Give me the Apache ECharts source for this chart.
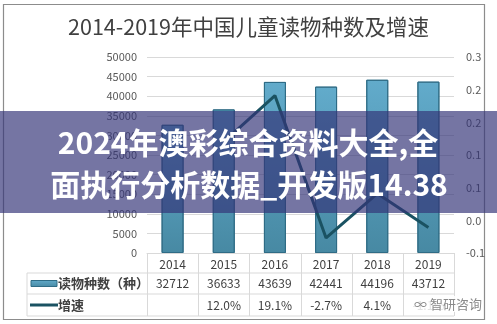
<!DOCTYPE html>
<html><head><meta charset="utf-8">
<script src="https://cdn.jsdelivr.net/npm/echarts@6/dist/echarts.min.js"></script>
<style>html,body{margin:0;padding:0;background:#fff}#c{width:497px;height:324px}</style>
</head><body><div id="c"></div>
<script>
const titleText = '2014-2019年中国儿童读物种数及增速';
const categories = ['2014','2015','2016','2017','2018','2019'];
const bookCounts = [32712, 36633, 43639, 42441, 44196, 43712];
const growthRates = [null, 0.120, 0.191, -0.027, 0.041, -0.011];
const growthLabels = ['', '12.0%', '19.1%', '-2.7%', '4.1%', '-1.1%'];
const seriesNames = ['读物种数（种）', '增速'];
const overlayLines = ['2024年澳彩综合资料大全,全', '面执行分析数据_开发版14.38'];
const watermark = '智研咨询';

const chart = echarts.init(document.getElementById('c'), null, {renderer:'canvas'});
const F = '"Noto Sans CJK SC","Noto Sans",sans-serif';
function excelFmt(v){ const r = Math.sign(v)*Math.round(Math.abs(v)*10+1e-9)/10; return r.toFixed(1); }
const G = {left:147, right:43, top:57, bottom:71};
chart.setOption({
  animation:false,
  title:{text:titleText, left:'center', top:11, textStyle:{fontFamily:F, fontSize:21.5, fontWeight:'normal', color:'#404040'}},
  grid:G,
  xAxis:{type:'category', data:categories, axisTick:{show:false},
    axisLine:{lineStyle:{color:'#d9d9d9'}},
    axisLabel:{color:'#404040', fontSize:12, fontFamily:F, margin:5}},
  yAxis:[
    {type:'value', min:0, max:50000, interval:5000, axisLine:{show:false}, axisTick:{show:false},
     splitLine:{lineStyle:{color:'#d9d9d9'}}, axisLabel:{color:'#595959', fontSize:11, fontFamily:F, margin:10, formatter:v=>String(v)}},
    {type:'value', min:-0.05, max:0.25, interval:0.05, axisLine:{show:false}, axisTick:{show:false},
     splitLine:{show:false}, axisLabel:{color:'#595959', fontSize:11, fontFamily:F, margin:12, formatter:excelFmt}}
  ],
  series:[
    {name:seriesNames[0], type:'bar', data:bookCounts, barWidth:22,
     itemStyle:{color:new echarts.graphic.LinearGradient(0,0,0,1,[{offset:0,color:'#62abcb'},{offset:1,color:'#4789a3'}]),
       borderColor:'#2f6c86', borderWidth:1}},
    {name:seriesNames[1], type:'line', yAxisIndex:1, data:growthRates, symbol:'none', connectNulls:false,
     lineStyle:{color:'#1a5262', width:3}, z:5}
  ]
});

const x0 = G.left, x1 = 497 - G.right, yAxisBottom = 324 - G.bottom;
const rowB1 = yAxisBottom + 20, rowB2 = rowB1 + 21, rowB3 = rowB2 + 22;
const tableLeft = 27;
const els = [];
const ln = (a,b,c,d)=>els.push({type:'line', shape:{x1:a,y1:b,x2:c,y2:d}, style:{stroke:'#d9d9d9', lineWidth:1}, silent:true});
ln(tableLeft, rowB1, x1, rowB1); ln(tableLeft, rowB2, x1, rowB2); ln(tableLeft, rowB3, x1, rowB3);
ln(tableLeft, rowB1, tableLeft, rowB3);
const step = (x1-x0)/categories.length;
for (let i=0;i<=categories.length;i++){ const x = Math.round(x0 + step*i)+0.5; ln(x, yAxisBottom, x, rowB3); }
categories.forEach((c,i)=>{
  const px = chart.convertToPixel({xAxisIndex:0}, c);
  els.push({type:'text', style:{text:String(bookCounts[i]), x:px, y:(rowB1+rowB2)/2, align:'center', verticalAlign:'middle', fill:'#404040', font:'12px '+F}});
  els.push({type:'text', style:{text:growthLabels[i], x:px, y:(rowB2+rowB3)/2, align:'center', verticalAlign:'middle', fill:'#404040', font:'12px '+F}});
});
els.push({type:'rect', shape:{x:31, y:(rowB1+rowB2)/2-3, width:26, height:6}, style:{fill:new echarts.graphic.LinearGradient(0,0,0,1,[{offset:0,color:'#62abcb'},{offset:1,color:'#4789a3'}]), stroke:'#2f6c86', lineWidth:1}});
els.push({type:'text', style:{text:seriesNames[0], x:58, y:(rowB1+rowB2)/2, verticalAlign:'middle', fill:'#404040', font:'bold 13px '+F}});
els.push({type:'line', shape:{x1:30, y1:(rowB2+rowB3)/2, x2:58, y2:(rowB2+rowB3)/2}, style:{stroke:'#1a5262', lineWidth:3}});
els.push({type:'text', style:{text:seriesNames[1], x:58, y:(rowB2+rowB3)/2, verticalAlign:'middle', fill:'#404040', font:'bold 13px '+F}});
els.push({type:'rect', shape:{x:3.5, y:4.5, width:481, height:315}, style:{fill:'none', stroke:'#8c8c8c', lineWidth:1.2}, silent:true});
els.push({type:'rect', shape:{x:412, y:296, width:66, height:16}, style:{fill:'rgba(255,255,255,0.85)'}});
els.push({type:'text', style:{text:'∞ ' + watermark, x:414, y:304, verticalAlign:'middle', fill:'#8a8a8a', font:'13px '+F}});
els.push({type:'rect', shape:{x:0, y:111, width:497, height:102}, style:{fill:'rgba(52,52,120,0.68)'}, z:100});
els.push({type:'text', style:{text:overlayLines[0], x:248, y:143, align:'center', verticalAlign:'middle', fill:'#ffffff', font:'bold 30px '+F, shadowBlur:3, shadowColor:'rgba(0,0,0,0.4)'}, z:101});
els.push({type:'text', style:{text:overlayLines[1], x:249, y:185, align:'center', verticalAlign:'middle', fill:'#ffffff', font:'bold 30px '+F, shadowBlur:3, shadowColor:'rgba(0,0,0,0.4)'}, z:101});
chart.setOption({graphic:{elements:els}});
</script></body></html>
